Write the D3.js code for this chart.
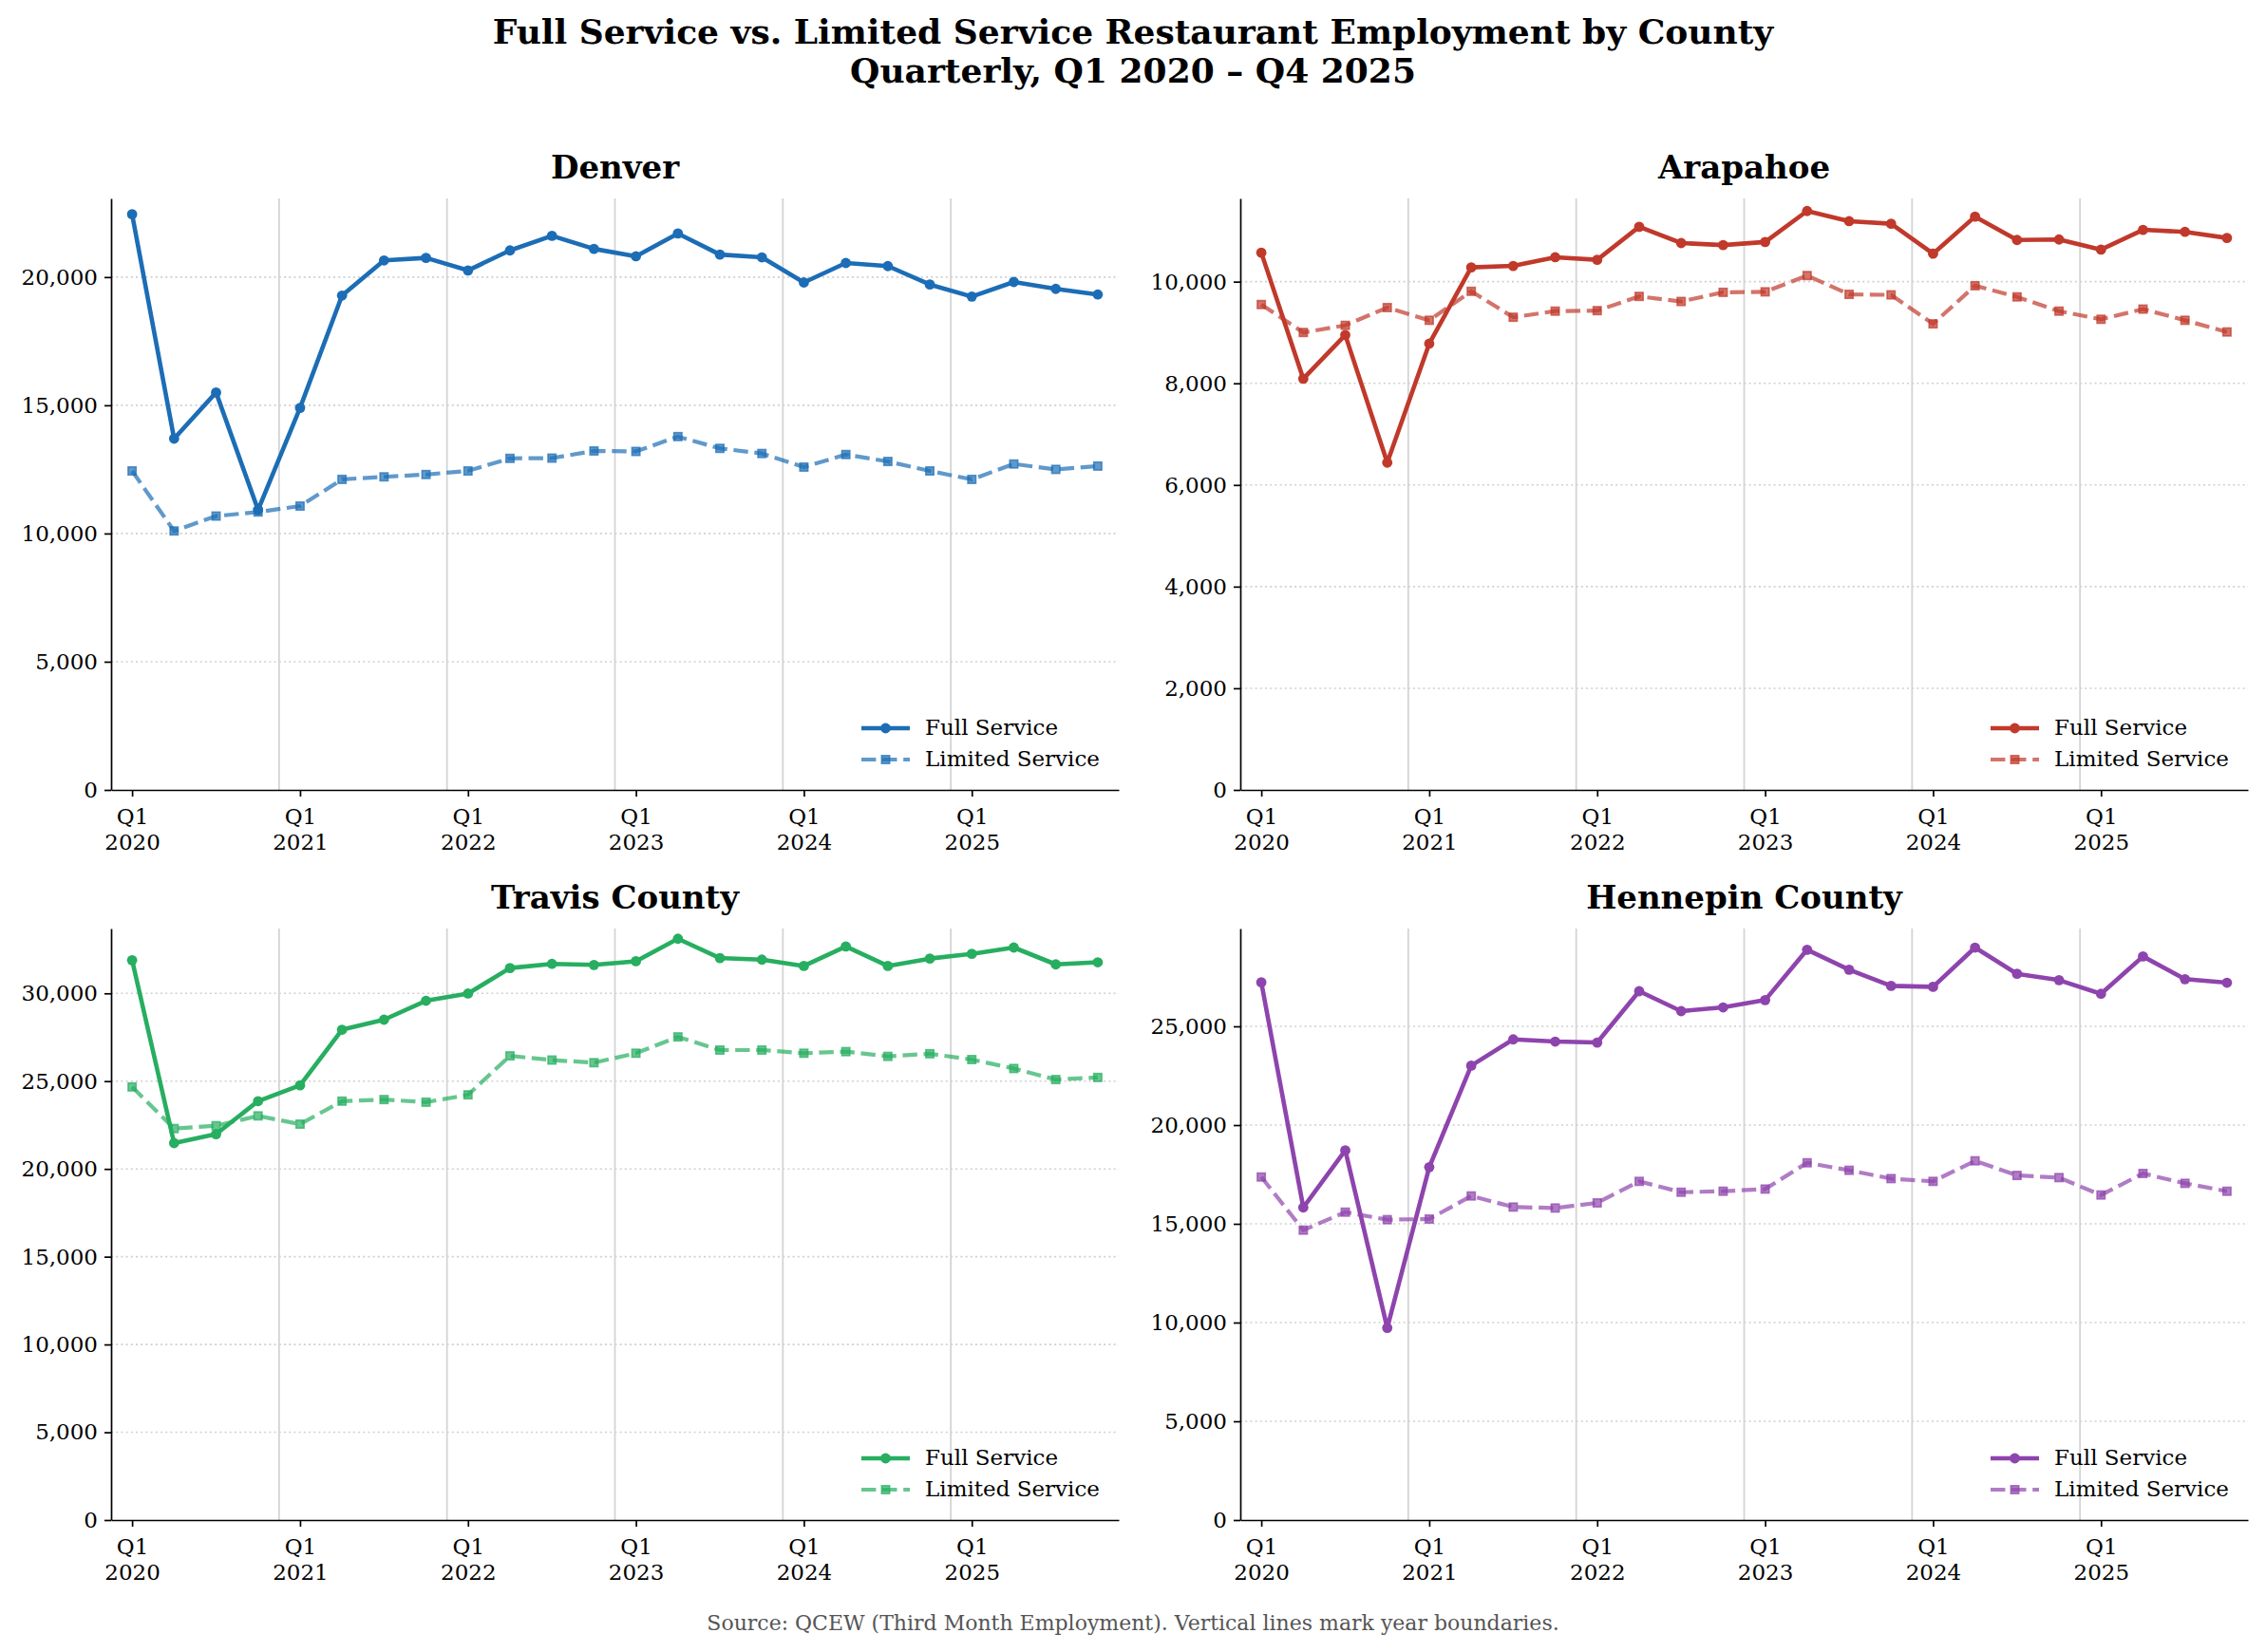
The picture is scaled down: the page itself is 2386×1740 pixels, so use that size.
<!DOCTYPE html>
<html>
<head>
<meta charset="utf-8">
<script src="https://cdn.jsdelivr.net/npm/d3@7"></script>
<style>
  body { margin: 0; background: #fff; }
  svg text { font-family: "DejaVu Serif", serif; }
</style>
</head>
<body>
<div id="chart"></div>
<script>
// quarterly labels, Q1 2020 .. Q4 2025
const quarters = [
  "Q1 2020", "Q2 2020", "Q3 2020", "Q4 2020",
  "Q1 2021", "Q2 2021", "Q3 2021", "Q4 2021",
  "Q1 2022", "Q2 2022", "Q3 2022", "Q4 2022",
  "Q1 2023", "Q2 2023", "Q3 2023", "Q4 2023",
  "Q1 2024", "Q2 2024", "Q3 2024", "Q4 2024",
  "Q1 2025", "Q2 2025", "Q3 2025", "Q4 2025"
];
const counties = ["Denver", "Arapahoe", "Travis County", "Hennepin County"];
const seriesNames = ["Full Service", "Limited Service"];

const denverFull = [22450, 13700, 15500, 10920, 14900, 19280, 20650, 20750, 20260, 21040, 21610, 21100,
  20810, 21700, 20880, 20770, 19790, 20550, 20430, 19710, 19240, 19810, 19540, 19320];
const denverLimited = [12440, 10100, 10680, 10840, 11070, 12110, 12210, 12300, 12440, 12930, 12940, 13220,
  13200, 13780, 13320, 13120, 12590, 13080, 12810, 12440, 12110, 12710, 12500, 12630];

const arapahoeFull = [10570, 8090, 8950, 6440, 8780, 10280, 10310, 10480, 10430, 11080, 10760, 10720,
  10780, 11390, 11190, 11140, 10550, 11280, 10820, 10830, 10630, 11020, 10980, 10860];
const arapahoeLimited = [9550, 9000, 9140, 9490, 9240, 9810, 9300, 9420, 9430, 9710, 9610, 9790,
  9800, 10120, 9750, 9740, 9170, 9920, 9700, 9420, 9260, 9460, 9240, 9010];

const travisFull = [31890, 21470, 21980, 23860, 24760, 27930, 28500, 29580, 29990, 31440, 31680, 31620,
  31830, 33110, 32010, 31920, 31560, 32670, 31560, 31980, 32250, 32610, 31650, 31770];
const travisLimited = [24670, 22300, 22460, 23020, 22550, 23860, 23950, 23800, 24220, 26440, 26200, 26050,
  26590, 27520, 26770, 26770, 26590, 26680, 26410, 26560, 26230, 25720, 25090, 25210];

const hennepinFull = [27230, 15830, 18720, 9730, 17870, 23010, 24340, 24230, 24180, 26780, 25770, 25960,
  26330, 28880, 27870, 27050, 27000, 28990, 27660, 27340, 26650, 28540, 27390, 27210];
const hennepinLimited = [17370, 14680, 15590, 15210, 15240, 16410, 15850, 15800, 16060, 17150, 16600, 16650,
  16760, 18090, 17710, 17290, 17150, 18190, 17450, 17340, 16460, 17550, 17050, 16650];

const fullData = [denverFull, arapahoeFull, travisFull, hennepinFull];
const limitedData = [denverLimited, arapahoeLimited, travisLimited, hennepinLimited];

// colours per county
const colors = ["#1c6db5", "#c0392b", "#27ae60", "#8e44ad"];

// figure size and panel placement
const width = 2386;
const height = 1740;
const panelW = 1061;
const panelH = 623;
const panelPos = [
  { x: 117, y: 209 },
  { x: 1306, y: 209 },
  { x: 117, y: 978 },
  { x: 1306, y: 978 }
];

const svg = d3
  .select("#chart")
  .append("svg")
  .attr("width", width)
  .attr("height", height)
  .style("background", "#fff");

// main title
const title = svg
  .append("text")
  .attr("text-anchor", "middle")
  .style("font-size", "36px")
  .style("font-weight", "bold");
title.append("tspan").attr("x", width / 2).attr("y", 46)
  .text("Full Service vs. Limited Service Restaurant Employment by County");
title.append("tspan").attr("x", width / 2).attr("y", 87)
  .text("Quarterly, Q1 2020 \u2013 Q4 2025");

// Q1 positions get ticks, year boundaries sit half a quarter before
const q1Index = quarters.map((q, i) => (q.startsWith("Q1") ? i : -1)).filter((i) => i >= 0);
const yearBounds = q1Index.filter((i) => i > 0).map((i) => i - 0.5);

counties.forEach((name, i) => {
  const full = fullData[i];
  const limited = limitedData[i];
  const color = colors[i];
  const all = full.concat(limited);
  const lo = d3.min(all);
  const hi = d3.max(all);

  const x = d3.scaleLinear().domain([-0.5, quarters.length - 0.5]).range([0, panelW]);
  const y = d3.scaleLinear().domain([0, hi + 0.05 * (hi - lo)]).range([panelH, 0]);

  const g = svg
    .append("g")
    .attr("transform", `translate(${panelPos[i].x},${panelPos[i].y})`);

  // horizontal dotted grid
  g.selectAll(".yGrid")
    .data(y.ticks(5).slice(1))
    .join("line")
    .attr("x1", 0)
    .attr("x2", panelW)
    .attr("y1", (d) => y(d))
    .attr("y2", (d) => y(d))
    .attr("stroke", "#cfcfcf")
    .attr("stroke-width", 1.6)
    .attr("stroke-dasharray", "2,3.2");

  // vertical year boundaries
  g.selectAll(".xGrid")
    .data(yearBounds)
    .join("line")
    .attr("x1", (d) => x(d))
    .attr("x2", (d) => x(d))
    .attr("y1", 0)
    .attr("y2", panelH)
    .attr("stroke", "#d4d4d4")
    .attr("stroke-width", 1.8);

  // y axis
  const yAxis = g
    .append("g")
    .call(
      d3.axisLeft(y)
        .ticks(5)
        .tickFormat(d3.format(","))
        .tickSize(7)
        .tickSizeOuter(0)
        .tickPadding(7)
    );
  yAxis.selectAll(".tick text").style("font-size", "23px").attr("fill", "#000");

  // x axis with two-line labels
  const xAxis = g
    .append("g")
    .attr("transform", `translate(0,${panelH})`)
    .call(d3.axisBottom(x).tickValues(q1Index).tickSize(7).tickSizeOuter(0).tickFormat(""));
  xAxis.selectAll(".tick")
    .append("text")
    .attr("text-anchor", "middle")
    .attr("fill", "#000")
    .style("font-size", "23px")
    .each(function (d) {
      const parts = quarters[d].split(" ");
      d3.select(this).append("tspan").attr("x", 0).attr("y", 36).text(parts[0]);
      d3.select(this).append("tspan").attr("x", 0).attr("y", 63).text(parts[1]);
    });

  [yAxis, xAxis].forEach((ax) => {
    ax.select(".domain").attr("stroke", "#000").attr("stroke-width", 1.7);
    ax.selectAll(".tick line").attr("stroke", "#000").attr("stroke-width", 1.7);
  });

  // subplot title
  g.append("text")
    .attr("x", panelW / 2)
    .attr("y", -21)
    .attr("text-anchor", "middle")
    .style("font-size", "34px")
    .style("font-weight", "bold")
    .text(name);

  const line = d3
    .line()
    .x((d, j) => x(j))
    .y((d) => y(d));

  // full service: solid with circles
  g.append("path")
    .datum(full)
    .attr("fill", "none")
    .attr("stroke", color)
    .attr("stroke-width", 4.6)
    .attr("stroke-linejoin", "round")
    .attr("d", line);
  g.selectAll(".fullDot")
    .data(full)
    .join("circle")
    .attr("cx", (d, j) => x(j))
    .attr("cy", (d) => y(d))
    .attr("r", 5.4)
    .attr("fill", color);

  // limited service: dashed, translucent, squares
  g.append("path")
    .datum(limited)
    .attr("fill", "none")
    .attr("stroke", color)
    .attr("stroke-opacity", 0.7)
    .attr("stroke-width", 4.2)
    .attr("stroke-dasharray", "15.4,6.7")
    .attr("d", line);
  g.selectAll(".limSq")
    .data(limited)
    .join("rect")
    .attr("x", (d, j) => x(j) - 4.2)
    .attr("y", (d) => y(d) - 4.2)
    .attr("width", 8.4)
    .attr("height", 8.4)
    .attr("fill", color)
    .attr("fill-opacity", 0.7)
    .attr("stroke", color)
    .attr("stroke-opacity", 0.7)
    .attr("stroke-width", 1.6);

  // legend, lower right, no frame
  const legend = g.append("g").attr("transform", `translate(${panelW - 271},${panelH - 65})`);
  seriesNames.forEach((s, k) => {
    const row = legend.append("g").attr("transform", `translate(0,${k * 33})`);
    if (k === 0) {
      row.append("line").attr("x1", 0).attr("x2", 51).attr("stroke", color).attr("stroke-width", 4.6);
      row.append("circle").attr("cx", 25.5).attr("r", 5.4).attr("fill", color);
    } else {
      row.append("line").attr("x1", 0).attr("x2", 51).attr("stroke", color)
        .attr("stroke-opacity", 0.7).attr("stroke-width", 4.2).attr("stroke-dasharray", "15.4,6.7");
      row.append("rect").attr("x", 21.3).attr("y", -4.2).attr("width", 8.4).attr("height", 8.4)
        .attr("fill", color).attr("fill-opacity", 0.7)
        .attr("stroke", color).attr("stroke-opacity", 0.7).attr("stroke-width", 1.6);
    }
    row.append("text")
      .attr("x", 67)
      .attr("y", 7)
      .style("font-size", "23px")
      .attr("fill", "#000")
      .text(s);
  });
});

// footnote
svg
  .append("text")
  .attr("x", width / 2)
  .attr("y", 1717)
  .attr("text-anchor", "middle")
  .style("font-size", "22px")
  .attr("fill", "#555")
  .text("Source: QCEW (Third Month Employment). Vertical lines mark year boundaries.");
</script>
</body>
</html>
